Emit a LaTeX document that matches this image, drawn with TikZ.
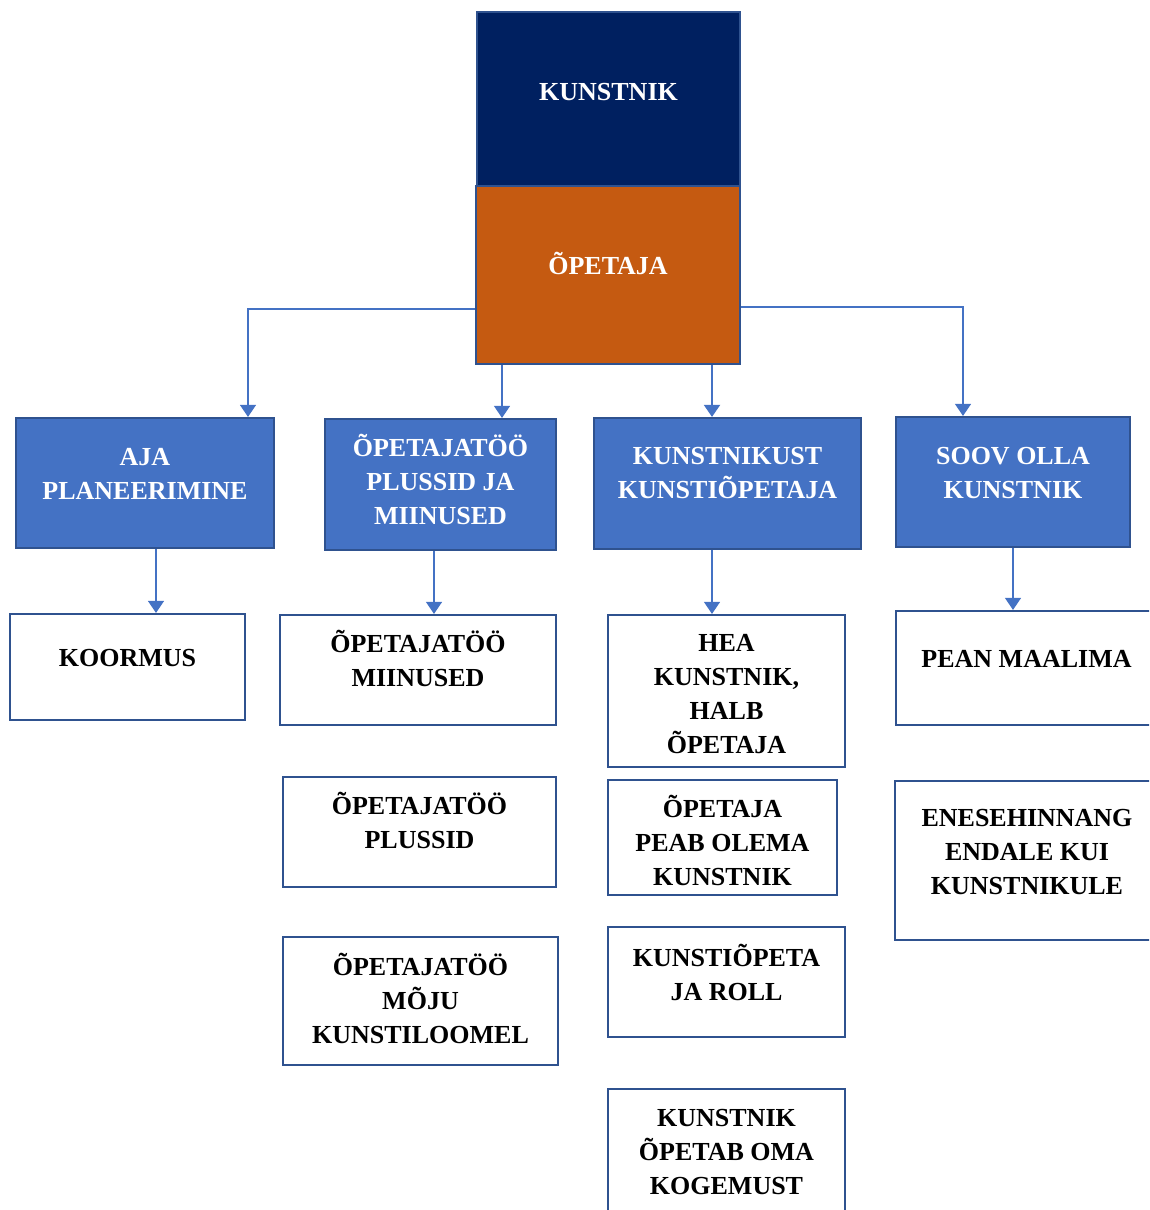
\documentclass[tikz,border=0pt]{standalone}
\usepackage{fontspec}
\setmainfont{Liberation Serif}
\usetikzlibrary{arrows.meta}
\definecolor{navy}{HTML}{002060}
\definecolor{rust}{HTML}{C55A11}
\definecolor{mblue}{HTML}{4472C4}
\definecolor{bline}{HTML}{2F528F}
\tikzset{
  bx/.style={draw=bline, line width=2.2pt, inner sep=0pt, rectangle},
  topbox/.style={bx, fill=navy},
  orbox/.style={bx, fill=rust},
  bluebox/.style={bx, fill=mblue},
  whitebox/.style={bx, fill=white},
  lbl/.style={inner sep=0pt, align=center, font=\fontsize{26}{34}\selectfont\bfseries},
  wlbl/.style={lbl, text=white},
  blbl/.style={lbl, text=black},
  conn/.style={draw=mblue, line width=1.3pt, -{Triangle[width=16pt,length=12pt]}},
}
\begin{document}
\begin{tikzpicture}[x=1pt,y=-1pt]
\clip (0,0) rectangle (1149,1210);
\useasboundingbox (0,0) rectangle (1149,1210);
% top boxes
\node[topbox, minimum width=263pt, minimum height=174pt] (kunstnik) at (608.5,99) {};
\node[orbox, minimum width=264pt, minimum height=178pt] (opetaja) at (608,275) {};
\node[wlbl] (t-kunstnik) at (608.5,92) {KUNSTNIK};
\node[wlbl] (t-opetaja) at (608,263) {ÕPETAJA};
% second level
\node[bluebox, minimum width=258pt, minimum height=130pt] (aja) at (145,483) {};
\node[bluebox, minimum width=231pt, minimum height=131pt] (plus) at (440.5,484.5) {};
\node[bluebox, minimum width=267pt, minimum height=131pt] (kkp) at (727.5,483.5) {};
\node[bluebox, minimum width=234pt, minimum height=130pt] (soov) at (1013,482) {};
\node[wlbl] (t-aja) at (145,473.5) {AJA\\PLANEERIMINE};
\node[wlbl] (t-plus) at (440.5,479.5) {ÕPETAJATÖÖ\\PLUSSID JA\\MIINUSED};
\node[wlbl] (t-kkp) at (727.5,473) {KUNSTNIKUST\\KUNSTIÕPETAJA};
\node[wlbl] (t-soov) at (1013,473.5) {SOOV OLLA\\KUNSTNIK};
% third level
\node[whitebox, minimum width=235pt, minimum height=106pt] (koormus) at (127.5,667) {};
\node[whitebox, minimum width=276pt, minimum height=110pt] (miinused) at (418,670) {};
\node[whitebox, minimum width=273pt, minimum height=110pt] (plussid) at (419.5,832) {};
\node[whitebox, minimum width=275pt, minimum height=128pt] (moju) at (420.5,1001) {};
\node[whitebox, minimum width=237pt, minimum height=152pt] (hea) at (726.5,691) {};
\node[whitebox, minimum width=229pt, minimum height=115pt] (peab) at (722.5,837.5) {};
\node[whitebox, minimum width=237pt, minimum height=110pt] (roll) at (726.5,982) {};
\node[whitebox, minimum width=237pt, minimum height=129pt] (kogemus) at (726.5,1153.5) {};
\node[whitebox, minimum width=261pt, minimum height=114pt] (pean) at (1026.5,668) {};
\node[whitebox, minimum width=264pt, minimum height=159pt] (enese) at (1027,860.5) {};
\node[blbl] (t-koormus) at (127.5,658) {KOORMUS};
\node[blbl] (t-miinused) at (418,658.5) {ÕPETAJATÖÖ\\MIINUSED};
\node[blbl] (t-plussid) at (419.5,820.5) {ÕPETAJATÖÖ\\PLUSSID};
\node[blbl] (t-moju) at (420.5,998) {ÕPETAJATÖÖ\\MÕJU\\KUNSTILOOMEL};
\node[blbl] (t-hea) at (726.5,694) {HEA\\KUNSTNIK,\\HALB\\ÕPETAJA};
\node[blbl] (t-peab) at (722.5,840) {ÕPETAJA\\PEAB OLEMA\\KUNSTNIK};
\node[blbl] (t-roll) at (726.5,972) {KUNSTIÕPETA\\JA ROLL};
\node[blbl] (t-kogemus) at (726.5,1152) {KUNSTNIK\\ÕPETAB OMA\\KOGEMUST};
\node[blbl] (t-pean) at (1026.5,659) {PEAN MAALIMA};
\node[blbl] (t-enese) at (1027,852) {ENESEHINNANG\\ENDALE KUI\\KUNSTNIKULE};
% connectors from OPETAJA
\coordinate (p1) at ([xshift=103pt]aja.north);
\coordinate (p2) at ([xshift=61.5pt]plus.north);
\coordinate (p3) at ([xshift=-15.5pt]kkp.north);
\coordinate (p4) at ([xshift=-50pt]soov.north);
\draw[conn] ([yshift=-34pt]opetaja.west) -| (p1);
\draw[conn] (p2 |- opetaja.south) -- (p2);
\draw[conn, line width=2pt] (p3 |- opetaja.south) -- (p3);
\draw[conn] ([yshift=-32pt]opetaja.east) -| (p4);
% connectors to third level
\coordinate (q1) at ([xshift=11pt]aja.south);
\coordinate (q2) at ([xshift=-6.5pt]plus.south);
\coordinate (q3) at ([xshift=-15.5pt]kkp.south);
\coordinate (q4) at (soov.south);
\draw[conn] (q1) -- (q1 |- koormus.north);
\draw[conn] (q2) -- (q2 |- miinused.north);
\draw[conn] (q3) -- (q3 |- hea.north);
\draw[conn] (q4) -- (q4 |- pean.north);
\end{tikzpicture}
\end{document}
